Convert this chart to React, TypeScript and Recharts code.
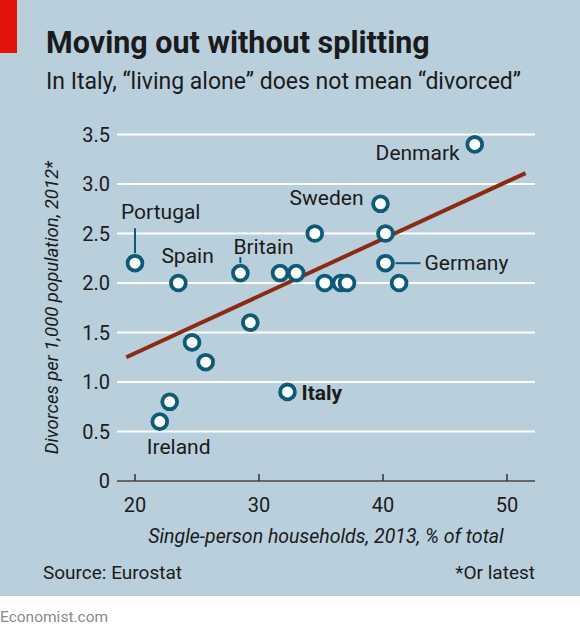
import React from "react";
import {
  ScatterChart,
  Scatter,
  XAxis,
  YAxis,
  CartesianGrid,
  Label,
} from "recharts";

// values
const countryNames = [
  "Portugal", "Spain", "Britain", "", "", "", "", "", "", "Sweden",
  "", "Germany", "", "Denmark", "", "", "", "Italy", "", "Ireland",
];
const householdShare = [
  20.0, 23.5, 28.5, 31.7, 33.0, 34.5, 35.3, 36.6, 37.1, 39.8,
  40.2, 40.2, 41.3, 47.4, 29.3, 24.6, 25.7, 32.3, 22.8, 22.0,
];
const divorceRate = [
  2.2, 2.0, 2.1, 2.1, 2.1, 2.5, 2.0, 2.0, 2.0, 2.8,
  2.5, 2.2, 2.0, 3.4, 1.6, 1.4, 1.2, 0.9, 0.8, 0.6,
];
const trendX = [19.3, 51.5];
const trendY = [1.25, 3.11];
const xTicks = [20, 30, 40, 50];
const yTicks = [0, 0.5, 1, 1.5, 2, 2.5, 3, 3.5];

const FONT = "Roboto, 'DejaVu Sans', sans-serif";
const BG = "#b9cfdb";
const TEAL = "#0d5b77";
const INK = "#1b1b1b";

// label placement relative to the dot centre, in pixels
const LABELS: Record<string, { dx: number; dy: number; anchor: "start" | "end"; bold?: boolean; line?: [number, number, number, number] }> = {
  Denmark: { dx: -15, dy: 16, anchor: "end" },
  Sweden: { dx: -17, dy: 1, anchor: "end" },
  Portugal: { dx: -14, dy: -44, anchor: "start", line: [0, -35, 0, -10] },
  Spain: { dx: -17, dy: -20, anchor: "start" },
  Britain: { dx: -7, dy: -19, anchor: "start", line: [0, -16, 0, -10] },
  Germany: { dx: 39, dy: 7, anchor: "start", line: [10, 0, 35, 0] },
  Italy: { dx: 14, dy: 8, anchor: "start", bold: true },
  Ireland: { dx: -13, dy: 32, anchor: "start" },
};

const points = householdShare.map((x, i) => ({
  x,
  y: divorceRate[i],
  name: countryNames[i],
}));
const trend = trendX.map((x, i) => ({ x, y: trendY[i] }));

function CountryDot(props: any) {
  const { cx, cy, payload } = props;
  const lab = LABELS[payload.name];
  return (
    <g>
      {lab && lab.line && (
        <line
          x1={cx + lab.line[0]}
          y1={cy + lab.line[1]}
          x2={cx + lab.line[2]}
          y2={cy + lab.line[3]}
          stroke={TEAL}
          strokeWidth={2}
        />
      )}
      <circle cx={cx} cy={cy} r={7.4} fill="#fff" stroke={TEAL} strokeWidth={3.8} />
      {lab && (
        <text
          x={cx + lab.dx}
          y={cy + lab.dy}
          textAnchor={lab.anchor}
          fontSize={21}
          fontWeight={lab.bold ? 700 : 400}
          fill={INK}
          fontFamily={FONT}
        >
          {payload.name}
        </text>
      )}
    </g>
  );
}

function XTick(props: any) {
  const { x, y, payload } = props;
  return (
    <g>
      <line x1={x} y1={y - 7} x2={x} y2={y} stroke="#333" strokeWidth={1.5} />
      <text x={x} y={y + 31} textAnchor="middle" fontSize={20} fill={INK} fontFamily={FONT}>
        {payload.value}
      </text>
    </g>
  );
}

function YTitle(props: any) {
  const { viewBox } = props;
  const cy = viewBox.y + viewBox.height / 2;
  return (
    <text
      x={58}
      y={cy}
      transform={`rotate(-90 58 ${cy})`}
      textAnchor="middle"
      fontSize={18.5}
      fontStyle="italic"
      fill={INK}
      fontFamily={FONT}
    >
      Divorces per 1,000 population, 2012*
    </text>
  );
}

function XTitle(props: any) {
  const { viewBox } = props;
  return (
    <text
      x={viewBox.x + viewBox.width / 2}
      y={543}
      textAnchor="middle"
      fontSize={19.5}
      fontStyle="italic"
      fill={INK}
      fontFamily={FONT}
    >
      Single-person households, 2013, % of total
    </text>
  );
}

export default function App() {
  return (
    <div style={{ position: "absolute", left: 0, top: 0, width: 580, height: 634, background: "#fff" }}>
      <svg width={580} height={634} style={{ position: "absolute", left: 0, top: 0 }}>
        <rect x={0} y={0} width={580} height={596} fill={BG} />
        <rect x={0} y={0} width={17} height={53} fill="#e3120b" />
        <text x={46} y={53} fontSize={30.5} fontWeight={700} fill={INK} fontFamily={FONT}>
          Moving out without splitting
        </text>
        <text x={46} y={89} fontSize={23} fill={INK} fontFamily={FONT}>
          In Italy, “living alone” does not mean “divorced”
        </text>
        <text x={43} y={579} fontSize={19} fill={INK} fontFamily={FONT}>
          Source: Eurostat
        </text>
        <text x={535} y={579} textAnchor="end" fontSize={19} fill={INK} fontFamily={FONT}>
          *Or latest
        </text>
        <text x={0} y={622} fontSize={15.5} fill="#8a8a8a" fontFamily={FONT}>
          Economist.com
        </text>
      </svg>
      <div style={{ position: "absolute", left: 0, top: 0 }}>
        <ScatterChart
          width={580}
          height={634}
          margin={{ top: 134.5, right: 45, bottom: 93, left: 0 }}
        >
          <CartesianGrid horizontal vertical={false} stroke="#fff" strokeWidth={2} />
          <XAxis
            type="number"
            dataKey="x"
            domain={[18.55, 52.26]}
            ticks={xTicks}
            allowDataOverflow
            height={60}
            tickSize={0}
            tickMargin={0}
            tickLine={false}
            tick={<XTick />}
            axisLine={{ stroke: "#333", strokeWidth: 1.5 }}
          >
            <Label content={<XTitle />} />
          </XAxis>
          <YAxis
            type="number"
            dataKey="y"
            domain={[0, 3.5]}
            ticks={yTicks}
            width={117}
            tickSize={0}
            tickMargin={7}
            tickLine={false}
            axisLine={false}
            tickFormatter={(v: number) => (v === 0 ? "0" : v.toFixed(1))}
            tick={{ fontSize: 20, fill: INK, fontFamily: FONT }}
          >
            <Label content={<YTitle />} />
          </YAxis>
          <Scatter
            data={trend}
            line={{ stroke: "#8c2a12", strokeWidth: 4 }}
            shape={() => <g />}
            isAnimationActive={false}
          />
          <Scatter data={points} shape={<CountryDot />} isAnimationActive={false} />
        </ScatterChart>
      </div>
    </div>
  );
}
